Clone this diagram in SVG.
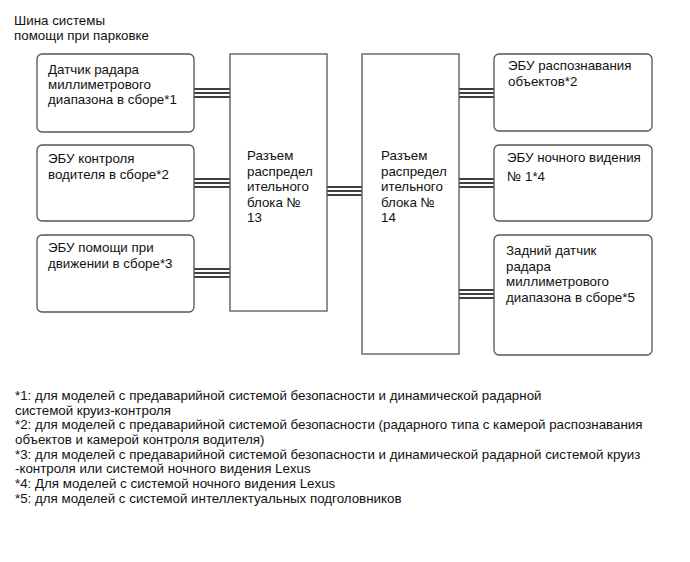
<svg xmlns="http://www.w3.org/2000/svg" width="690" height="562" viewBox="0 0 690 562">
<style>
text{font-family:"Liberation Sans",Arial,sans-serif;font-size:13.33px;fill:#111}
.box{fill:#fff;stroke:#555;stroke-width:1.3}
.bus line{stroke:#000;stroke-width:1.6}
</style>
<rect width="690" height="562" fill="#fff"/>
<g id="title">
<text x="14" y="25">Шина системы</text>
<text x="14" y="40">помощи при парковке</text>
</g>
<g id="connectors" class="bus">
<line x1="194" y1="89" x2="230" y2="89"/><line x1="194" y1="93" x2="230" y2="93"/><line x1="194" y1="97" x2="230" y2="97"/>
<line x1="194" y1="179" x2="230" y2="179"/><line x1="194" y1="183" x2="230" y2="183"/><line x1="194" y1="187" x2="230" y2="187"/>
<line x1="194" y1="269" x2="230" y2="269"/><line x1="194" y1="273" x2="230" y2="273"/><line x1="194" y1="277" x2="230" y2="277"/>
<line x1="327" y1="187" x2="362" y2="187"/><line x1="327" y1="191" x2="362" y2="191"/><line x1="327" y1="195" x2="362" y2="195"/>
<line x1="459" y1="89" x2="494" y2="89"/><line x1="459" y1="93" x2="494" y2="93"/><line x1="459" y1="97" x2="494" y2="97"/>
<line x1="459" y1="179" x2="494" y2="179"/><line x1="459" y1="183" x2="494" y2="183"/><line x1="459" y1="187" x2="494" y2="187"/>
<line x1="459" y1="290" x2="494" y2="290"/><line x1="459" y1="294" x2="494" y2="294"/><line x1="459" y1="298" x2="494" y2="298"/>
</g>
<g id="radar-front">
<rect class="box" x="37" y="54" width="157" height="78" rx="5"/>
<text x="48" y="74">Датчик радара</text>
<text x="48" y="89">миллиметрового</text>
<text x="48" y="104">диапазона в сборе*1</text>
</g>
<g id="driver-monitor">
<rect class="box" x="37" y="145" width="157" height="76" rx="5"/>
<text x="48" y="163">ЭБУ контроля</text>
<text x="48" y="179">водителя в сборе*2</text>
</g>
<g id="drive-assist">
<rect class="box" x="37" y="235" width="157" height="77" rx="5"/>
<text x="48" y="252">ЭБУ помощи при</text>
<text x="48" y="268">движении в сборе*3</text>
</g>
<g id="junction-13">
<rect class="box" x="230" y="54" width="97" height="257"/>
<text x="247" y="160">Разъем</text>
<text x="247" y="175.5">распредел</text>
<text x="247" y="191">ительного</text>
<text x="247" y="206.5">блока №</text>
<text x="247" y="222">13</text>
</g>
<g id="junction-14">
<rect class="box" x="362" y="54" width="97" height="300"/>
<text x="381" y="160">Разъем</text>
<text x="381" y="175.5">распредел</text>
<text x="381" y="191">ительного</text>
<text x="381" y="206.5">блока №</text>
<text x="381" y="222">14</text>
</g>
<g id="object-recognition">
<rect class="box" x="494" y="54" width="158" height="77" rx="5"/>
<text x="508" y="70">ЭБУ распознавания</text>
<text x="508" y="86">объектов*2</text>
</g>
<g id="night-vision">
<rect class="box" x="494" y="145" width="158" height="76" rx="5"/>
<text x="507" y="162">ЭБУ ночного видения</text>
<text x="507" y="181">№ 1*4</text>
</g>
<g id="radar-rear">
<rect class="box" x="494" y="235" width="158" height="120" rx="5"/>
<text x="506" y="255">Задний датчик</text>
<text x="506" y="270.5">радара</text>
<text x="506" y="286">миллиметрового</text>
<text x="506" y="301.5">диапазона в сборе*5</text>
</g>
<g id="footnotes">
<text x="15" y="400">*1: для моделей с предаварийной системой безопасности и динамической радарной</text>
<text x="15" y="414.5">системой круиз-контроля</text>
<text x="15" y="429">*2: для моделей с предаварийной системой безопасности (радарного типа с камерой распознавания</text>
<text x="15" y="444">объектов и камерой контроля водителя)</text>
<text x="15" y="458.5">*3: для моделей с предаварийной системой безопасности и динамической радарной системой круиз</text>
<text x="15" y="473">-контроля или системой ночного видения Lexus</text>
<text x="15" y="488">*4: Для моделей с системой ночного видения Lexus</text>
<text x="15" y="503">*5: для моделей с системой интеллектуальных подголовников</text>
</g>
</svg>
